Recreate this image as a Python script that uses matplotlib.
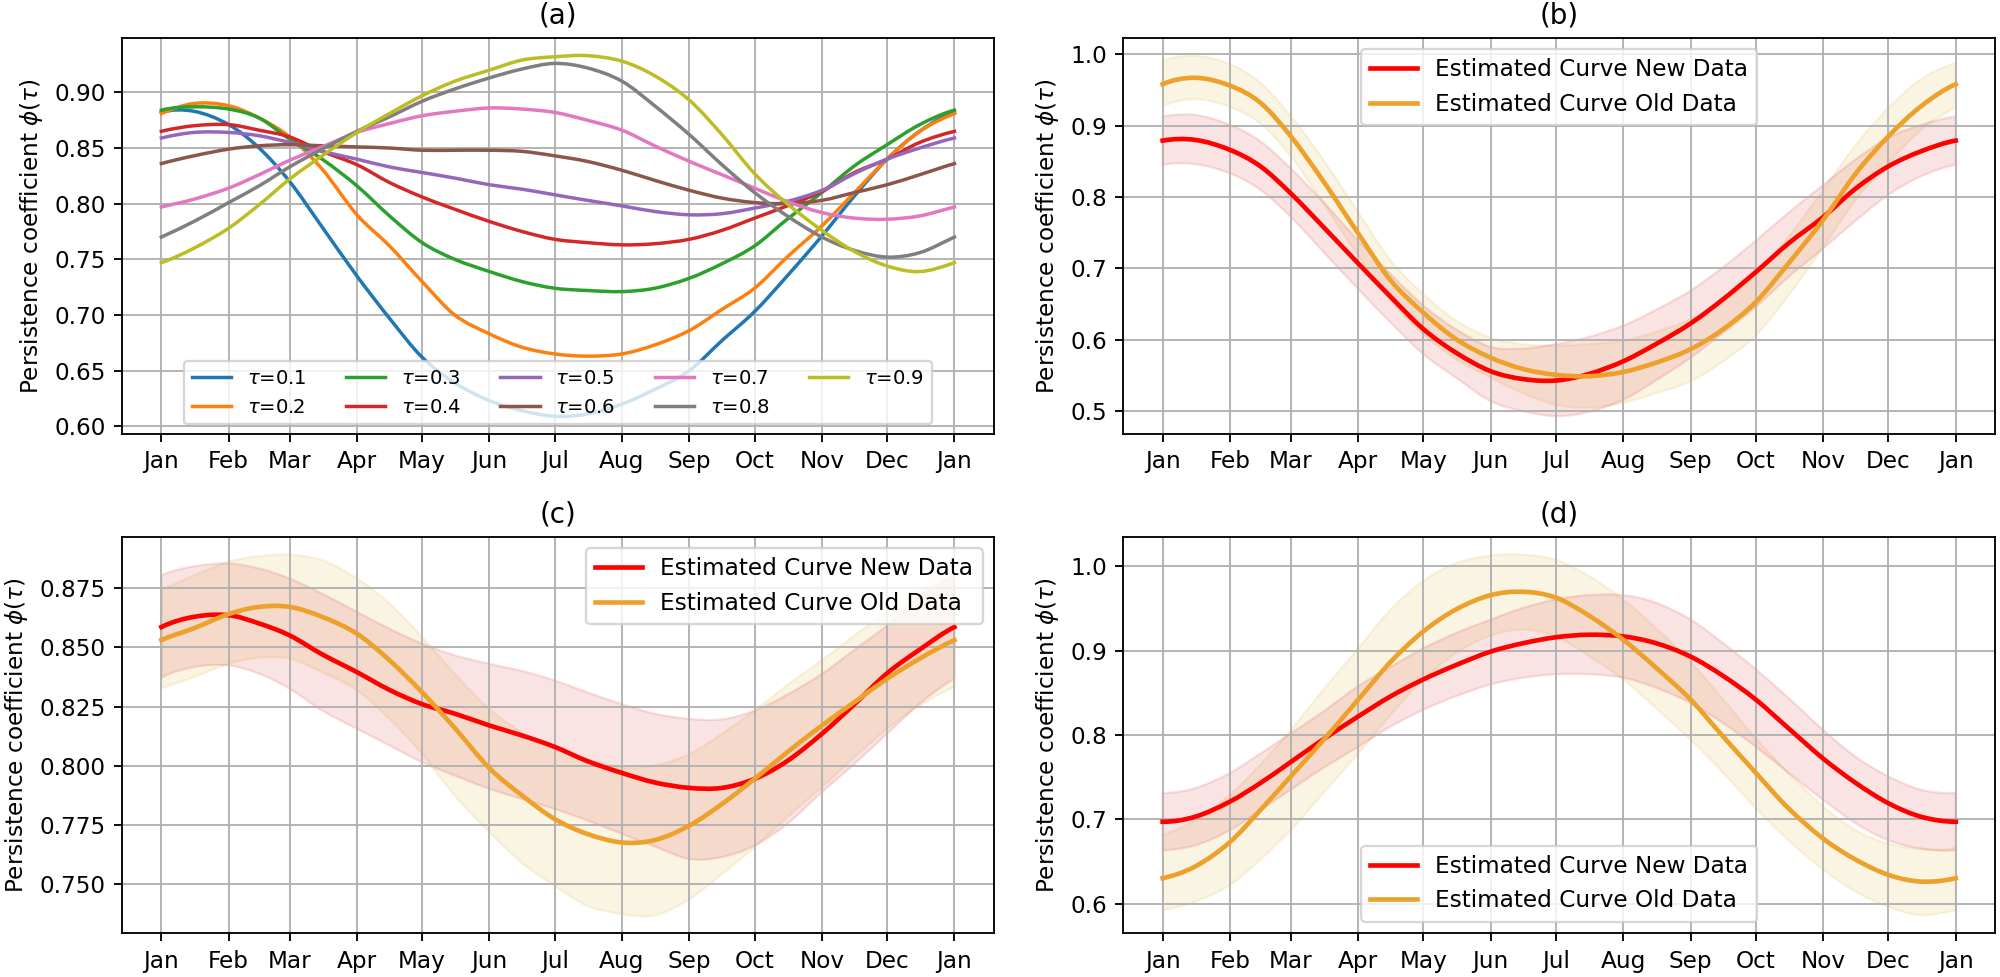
import numpy as np
import matplotlib
matplotlib.use("Agg")
import matplotlib.pyplot as plt
from matplotlib.path import Path
from matplotlib.patches import PathPatch
from matplotlib.lines import Line2D
import matplotlib.ticker as mticker

# ---------------- data ----------------
days = [0, 15, 31, 45, 59, 74, 90, 105, 120, 135, 151, 166, 181, 196,
        212, 227, 243, 258, 273, 288, 304, 319, 334, 349, 365]
month_ticks = [0, 31, 59, 90, 120, 151, 181, 212, 243, 273, 304, 334, 365]
month_labels = ['Jan', 'Feb', 'Mar', 'Apr', 'May', 'Jun', 'Jul', 'Aug',
                'Sep', 'Oct', 'Nov', 'Dec', 'Jan']

# panel (a): quantile curves
tau_labels = [r'$\tau$=0.1', r'$\tau$=0.2', r'$\tau$=0.3', r'$\tau$=0.4',
              r'$\tau$=0.5', r'$\tau$=0.6', r'$\tau$=0.7', r'$\tau$=0.8',
              r'$\tau$=0.9']
tau01 = [0.882, 0.883, 0.871, 0.850, 0.820, 0.779, 0.735, 0.697, 0.662, 0.639,
         0.623, 0.614, 0.609, 0.611, 0.620, 0.633, 0.650, 0.677, 0.703, 0.735,
         0.771, 0.807, 0.840, 0.865, 0.882]
tau02 = [0.881, 0.890, 0.888, 0.877, 0.860, 0.831, 0.790, 0.762, 0.730, 0.700,
         0.683, 0.671, 0.665, 0.663, 0.665, 0.673, 0.686, 0.705, 0.724, 0.752,
         0.780, 0.810, 0.840, 0.865, 0.881]
tau03 = [0.884, 0.887, 0.885, 0.877, 0.858, 0.840, 0.816, 0.789, 0.765, 0.750,
         0.739, 0.730, 0.724, 0.722, 0.721, 0.724, 0.733, 0.746, 0.762, 0.786,
         0.810, 0.834, 0.853, 0.871, 0.884]
tau04 = [0.865, 0.870, 0.871, 0.866, 0.860, 0.847, 0.835, 0.819, 0.806, 0.795,
         0.784, 0.775, 0.768, 0.765, 0.763, 0.764, 0.768, 0.776, 0.787, 0.798,
         0.811, 0.828, 0.840, 0.855, 0.865]
tau05 = [0.859, 0.864, 0.864, 0.861, 0.855, 0.847, 0.840, 0.833, 0.828, 0.823,
         0.817, 0.813, 0.808, 0.803, 0.798, 0.793, 0.790, 0.791, 0.796, 0.802,
         0.812, 0.827, 0.840, 0.850, 0.859]
tau06 = [0.836, 0.843, 0.849, 0.852, 0.853, 0.852, 0.851, 0.850, 0.848, 0.848,
         0.848, 0.847, 0.843, 0.838, 0.830, 0.821, 0.812, 0.805, 0.801, 0.800,
         0.803, 0.810, 0.817, 0.826, 0.836]
tau07 = [0.797, 0.804, 0.814, 0.826, 0.839, 0.851, 0.864, 0.872, 0.879, 0.883,
         0.886, 0.885, 0.882, 0.875, 0.866, 0.852, 0.838, 0.826, 0.814, 0.802,
         0.792, 0.787, 0.786, 0.789, 0.797]
tau08 = [0.770, 0.784, 0.801, 0.816, 0.833, 0.849, 0.865, 0.878, 0.892, 0.903,
         0.913, 0.921, 0.926, 0.922, 0.910, 0.888, 0.862, 0.835, 0.810, 0.789,
         0.770, 0.758, 0.752, 0.756, 0.770]
tau09 = [0.747, 0.760, 0.778, 0.799, 0.822, 0.843, 0.864, 0.881, 0.897, 0.910,
         0.920, 0.929, 0.932, 0.933, 0.928, 0.915, 0.893, 0.862, 0.827, 0.800,
         0.776, 0.757, 0.744, 0.739, 0.747]

# panel (b)
new_b = [0.879, 0.880, 0.866, 0.843, 0.805, 0.758, 0.707, 0.660, 0.615, 0.582,
         0.556, 0.545, 0.543, 0.552, 0.570, 0.594, 0.623, 0.657, 0.695, 0.735,
         0.772, 0.812, 0.843, 0.864, 0.879]
new_b_up = [0.913, 0.915, 0.901, 0.878, 0.840, 0.793, 0.739, 0.692, 0.648, 0.615,
            0.590, 0.588, 0.594, 0.604, 0.620, 0.642, 0.669, 0.702, 0.739, 0.778,
            0.817, 0.853, 0.883, 0.901, 0.913]
new_b_lo = [0.845, 0.846, 0.833, 0.810, 0.772, 0.723, 0.671, 0.624, 0.580, 0.547,
            0.514, 0.500, 0.493, 0.499, 0.516, 0.543, 0.575, 0.610, 0.646, 0.688,
            0.728, 0.767, 0.803, 0.829, 0.845]
old_b = [0.958, 0.967, 0.956, 0.932, 0.885, 0.822, 0.749, 0.683, 0.638, 0.601,
         0.575, 0.559, 0.551, 0.549, 0.555, 0.568, 0.587, 0.615, 0.653, 0.707,
         0.768, 0.833, 0.885, 0.927, 0.958]
old_b_up = [0.991, 0.998, 0.986, 0.960, 0.913, 0.852, 0.779, 0.711, 0.664, 0.627,
            0.603, 0.594, 0.592, 0.594, 0.599, 0.611, 0.629, 0.655, 0.690, 0.744,
            0.810, 0.873, 0.925, 0.965, 0.988]
old_b_lo = [0.927, 0.937, 0.926, 0.903, 0.857, 0.791, 0.718, 0.655, 0.608, 0.573,
            0.547, 0.525, 0.509, 0.505, 0.512, 0.525, 0.542, 0.570, 0.606, 0.662,
            0.730, 0.796, 0.847, 0.894, 0.925]

# panel (c)
new_c = [0.8585, 0.8628, 0.8635, 0.8600, 0.8550, 0.8470, 0.8395, 0.8320, 0.8260,
         0.8220, 0.8170, 0.8128, 0.8080, 0.8020, 0.7970, 0.7930, 0.7907, 0.7907,
         0.7945, 0.8020, 0.8135, 0.8260, 0.8390, 0.8490, 0.8585]
new_c_up = [0.8803, 0.8841, 0.8853, 0.8832, 0.8790, 0.8726, 0.8649, 0.8578, 0.8515,
            0.8466, 0.8430, 0.8400, 0.8360, 0.8310, 0.8260, 0.8220, 0.8198, 0.8196,
            0.8233, 0.8300, 0.8388, 0.8490, 0.8592, 0.8712, 0.8803]
new_c_lo = [0.8371, 0.8416, 0.8423, 0.8388, 0.8325, 0.8233, 0.8156, 0.8086, 0.8015,
            0.7959, 0.7903, 0.7860, 0.7818, 0.7770, 0.7713, 0.7660, 0.7607, 0.7615,
            0.7664, 0.7755, 0.7889, 0.8008, 0.8135, 0.8262, 0.8367]
old_c = [0.8530, 0.8580, 0.8640, 0.8670, 0.8670, 0.8628, 0.8557, 0.8445, 0.8310,
         0.8160, 0.7990, 0.7875, 0.7776, 0.7713, 0.7677, 0.7687, 0.7748, 0.7839,
         0.7945, 0.8057, 0.8170, 0.8269, 0.8367, 0.8452, 0.8530]
old_c_up = [0.8747, 0.8803, 0.8860, 0.8884, 0.8890, 0.8867, 0.8790, 0.8684, 0.8543,
            0.8388, 0.8240, 0.8140, 0.8075, 0.8030, 0.7994, 0.8001, 0.8050, 0.8135,
            0.8233, 0.8340, 0.8445, 0.8550, 0.8649, 0.8740, 0.8796]
old_c_lo = [0.8325, 0.8374, 0.8430, 0.8456, 0.8452, 0.8395, 0.8318, 0.8198, 0.8050,
            0.7874, 0.7720, 0.7590, 0.7494, 0.7410, 0.7375, 0.7370, 0.7438, 0.7544,
            0.7656, 0.7783, 0.7910, 0.8036, 0.8156, 0.8254, 0.8332]

# panel (d)
new_d = [0.697, 0.703, 0.721, 0.743, 0.768, 0.795, 0.822, 0.846, 0.866, 0.883,
         0.899, 0.909, 0.916, 0.919, 0.917, 0.909, 0.893, 0.870, 0.842, 0.808,
         0.772, 0.743, 0.719, 0.703, 0.697]
new_d_up = [0.731, 0.737, 0.755, 0.778, 0.802, 0.828, 0.858, 0.881, 0.903, 0.921,
            0.937, 0.951, 0.961, 0.966, 0.966, 0.957, 0.937, 0.909, 0.878, 0.844,
            0.806, 0.774, 0.751, 0.735, 0.731]
new_d_lo = [0.663, 0.669, 0.687, 0.711, 0.735, 0.761, 0.786, 0.810, 0.830, 0.846,
            0.860, 0.868, 0.872, 0.872, 0.868, 0.856, 0.838, 0.814, 0.786, 0.755,
            0.723, 0.695, 0.675, 0.665, 0.663]
old_d = [0.630, 0.644, 0.673, 0.711, 0.751, 0.794, 0.842, 0.887, 0.923, 0.949,
         0.966, 0.970, 0.963, 0.942, 0.913, 0.880, 0.842, 0.798, 0.755, 0.713,
         0.677, 0.652, 0.634, 0.626, 0.630]
old_d_up = [0.681, 0.699, 0.729, 0.765, 0.806, 0.854, 0.903, 0.949, 0.983, 1.004,
            1.013, 1.014, 1.008, 0.989, 0.961, 0.927, 0.887, 0.842, 0.796, 0.755,
            0.715, 0.687, 0.671, 0.665, 0.667]
old_d_lo = [0.592, 0.602, 0.622, 0.652, 0.687, 0.731, 0.778, 0.824, 0.866, 0.897,
            0.918, 0.925, 0.917, 0.894, 0.866, 0.832, 0.794, 0.755, 0.713, 0.675,
            0.640, 0.614, 0.596, 0.586, 0.592]

series_names = ['Estimated Curve New Data', 'Estimated Curve Old Data']

# ---------------- styling ----------------
NEW_COLOR = 'red'
OLD_COLOR = '#eda12a'
NEW_BAND = '#d62728'
OLD_BAND = 'goldenrod'
TAB_COLORS = ['C0', 'C1', 'C2', 'C3', 'C4', 'C5', 'C6', 'C7', 'C8']
PERIOD = 365


def smooth_segments(x, y):
    """Bezier segments passing exactly through the read points (smooth rendering)."""
    x = np.asarray(x, float)
    y = np.asarray(y, float)
    n = len(x)
    m = np.empty(n)
    m[1:-1] = (y[2:] - y[:-2]) / (x[2:] - x[:-2])
    m_end = (y[1] - y[-2]) / (x[1] - (x[-2] - PERIOD))
    m[0] = m_end
    m[-1] = m_end
    verts = []
    for i in range(n - 1):
        h = x[i + 1] - x[i]
        verts += [(x[i] + h / 3, y[i] + m[i] * h / 3),
                  (x[i + 1] - h / 3, y[i + 1] - m[i + 1] * h / 3),
                  (x[i + 1], y[i + 1])]
    return verts


def smooth_line(ax, x, y, color, lw):
    # data limits from the raw values
    ax.plot(x, y, visible=False)
    verts = [(x[0], y[0])] + smooth_segments(x, y)
    codes = [Path.MOVETO] + [Path.CURVE4] * (len(verts) - 1)
    p = PathPatch(Path(verts, codes), fill=False, edgecolor=color, lw=lw,
                  capstyle='projecting', joinstyle='round', zorder=2)
    ax.add_artist(p)


def smooth_band(ax, x, lo, up, color, alpha):
    coll = ax.fill_between(x, lo, up)
    coll.set_visible(False)
    up_v = [(x[0], up[0])] + smooth_segments(x, up)
    xr = list(x)[::-1]
    lo_r = list(lo)[::-1]
    lo_seg = smooth_segments([PERIOD - v for v in xr], lo_r)
    lo_v = [(PERIOD - a, b) for a, b in lo_seg]
    verts = up_v + [(xr[0], lo_r[0])] + lo_v + [(x[0], up[0])]
    codes = ([Path.MOVETO] + [Path.CURVE4] * (len(up_v) - 1) + [Path.LINETO]
             + [Path.CURVE4] * len(lo_v) + [Path.CLOSEPOLY])
    p = PathPatch(Path(verts, codes), facecolor=color, edgecolor=color,
                  alpha=alpha, lw=1.0, zorder=1)
    ax.add_artist(p)


dpi = 2000 / 12.0
fig = plt.figure(figsize=(12.0, 977 / dpi), dpi=dpi)

xl_a, xl_b, w = 0.06085, 0.5615, 0.4362
yb_top, yb_bot, h = 0.5555, 0.0447, 0.4060

ax_a = fig.add_axes([xl_a, yb_top, w, h])
ax_b = fig.add_axes([xl_b, yb_top, w, h])
ax_c = fig.add_axes([xl_a, yb_bot, w, h])
ax_d = fig.add_axes([xl_b, yb_bot, w, h])


def setup(ax, title):
    ax.set_xticks(month_ticks)
    ax.set_xticklabels(month_labels)
    ax.grid(True)
    ax.set_title(title)
    ax.set_ylabel(r'Persistence coefficient $\phi(\tau)$')


# (a)
handles_a = []
for vals, lab, col in zip([tau01, tau02, tau03, tau04, tau05, tau06, tau07, tau08, tau09],
                          tau_labels, TAB_COLORS):
    smooth_line(ax_a, days, vals, col, 1.5)
    handles_a.append(Line2D([], [], color=col, lw=1.5, label=lab))
setup(ax_a, '(a)')
ax_a.legend(handles=handles_a, loc='lower center', ncol=5, fontsize=8.5)


def band_panel(ax, new, new_lo, new_up, old, old_lo, old_up, title, loc):
    smooth_band(ax, days, old_lo, old_up, OLD_BAND, 0.12)
    smooth_band(ax, days, new_lo, new_up, NEW_BAND, 0.13)
    smooth_line(ax, days, new, NEW_COLOR, 2)
    smooth_line(ax, days, old, OLD_COLOR, 2)
    setup(ax, title)
    hs = [Line2D([], [], color=NEW_COLOR, lw=2, label=series_names[0]),
          Line2D([], [], color=OLD_COLOR, lw=2, label=series_names[1])]
    ax.legend(handles=hs, loc=loc)


band_panel(ax_b, new_b, new_b_lo, new_b_up, old_b, old_b_lo, old_b_up, '(b)', 'upper center')
band_panel(ax_c, new_c, new_c_lo, new_c_up, old_c, old_c_lo, old_c_up, '(c)', 'upper right')
band_panel(ax_d, new_d, new_d_lo, new_d_up, old_d, old_d_lo, old_d_up, '(d)', 'lower center')

ax_c.yaxis.set_major_formatter(mticker.FormatStrFormatter('%.3f'))

fig.savefig('out.png', dpi=dpi)
